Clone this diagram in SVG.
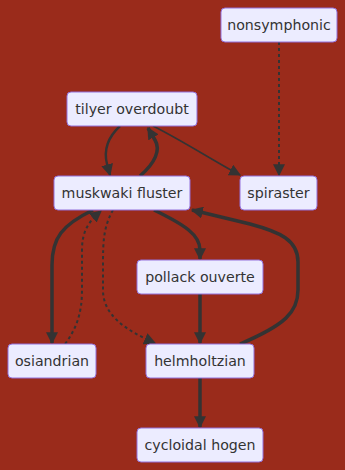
<svg xmlns="http://www.w3.org/2000/svg" width="345" height="470" viewBox="0 0 345 470">
  <style>
    .node rect { fill: #ECECFF; stroke: #9370DB; stroke-width: 1; }
    .node text { font-family: "DejaVu Sans", Verdana, sans-serif; font-size: 14.2px; fill: #333333; text-anchor: middle; dominant-baseline: central; }
    .edge { fill: none; stroke: #333333; stroke-linecap: butt; }
    .thick { stroke-width: 3.5; }
    .normal { stroke-width: 2.4; }
    .thin { stroke-width: 1.6; }
    .dotted { stroke-width: 2; stroke-dasharray: 3 3; }
  </style>
  <defs>
    <marker id="arrow" viewBox="0 0 10 10" refX="9" refY="5" markerUnits="userSpaceOnUse" markerWidth="12" markerHeight="12" orient="auto">
      <path d="M0,0 L10,5 L0,10 z" fill="#333333"/>
    </marker>
  </defs>
  <rect width="345" height="470" fill="#9A2B1B"/>

  <g id="connectors">
    <!-- nonsymphonic to spiraster -->
    <path class="edge dotted" d="M279,42 L279,175" marker-end="url(#arrow)"/>
    <!-- tilyer overdoubt to muskwaki fluster -->
    <path class="edge normal" d="M120,126 C107,138 104,152 107,164 L110,175" marker-end="url(#arrow)"/>
    <!-- muskwaki fluster to tilyer overdoubt -->
    <path class="edge thick" d="M140,176 C155,163 161,150 155,140 L148,128" marker-end="url(#arrow)"/>
    <!-- tilyer overdoubt to spiraster -->
    <path class="edge thin" d="M153,126 C185,142 215,162 240,175" marker-end="url(#arrow)"/>
    <!-- muskwaki fluster to osiandrian -->
    <path class="edge thick" d="M93,210 C62,225 52,238 52,265 L52,343" marker-end="url(#arrow)"/>
    <!-- osiandrian to muskwaki fluster -->
    <path class="edge dotted" d="M65,344 C77,328 82,312 82,290 L82,250 C82,232 88,222 101,211" marker-end="url(#arrow)"/>
    <!-- muskwaki fluster to helmholtzian -->
    <path class="edge dotted" d="M113,210 C104,226 103,240 103,262 L103,290 C103,315 125,330 155,343" marker-end="url(#arrow)"/>
    <!-- muskwaki fluster to pollack ouverte -->
    <path class="edge thick" d="M154,210 C185,225 200,235 200,250 L200,259" marker-end="url(#arrow)"/>
    <!-- pollack ouverte to helmholtzian -->
    <path class="edge thick" d="M200,294 L200,343" marker-end="url(#arrow)"/>
    <!-- helmholtzian to muskwaki fluster -->
    <path class="edge thick" d="M240,344 C285,325 298,312 298,290 L298,262 C298,240 280,232 250,224 L192,210" marker-end="url(#arrow)"/>
    <!-- helmholtzian to cycloidal hogen -->
    <path class="edge thick" d="M200,378 L200,427" marker-end="url(#arrow)"/>
  </g>

  <g id="nonsymphonic" class="node">
    <rect x="221" y="8" width="116" height="34" rx="4"/>
    <text x="279" y="25">nonsymphonic</text>
  </g>
  <g id="tilyer-overdoubt" class="node">
    <rect x="67" y="92" width="130" height="34" rx="4"/>
    <text x="132" y="109">tilyer overdoubt</text>
  </g>
  <g id="muskwaki-fluster" class="node">
    <rect x="54" y="176" width="136" height="34" rx="4"/>
    <text x="122" y="193">muskwaki fluster</text>
  </g>
  <g id="spiraster" class="node">
    <rect x="240" y="176" width="77" height="34" rx="4"/>
    <text x="278.5" y="193">spiraster</text>
  </g>
  <g id="pollack-ouverte" class="node">
    <rect x="137" y="260" width="126" height="34" rx="4"/>
    <text x="200" y="277">pollack ouverte</text>
  </g>
  <g id="osiandrian" class="node">
    <rect x="8" y="344" width="88" height="34" rx="4"/>
    <text x="52" y="361">osiandrian</text>
  </g>
  <g id="helmholtzian" class="node">
    <rect x="146" y="344" width="108" height="34" rx="4"/>
    <text x="200" y="361">helmholtzian</text>
  </g>
  <g id="cycloidal-hogen" class="node">
    <rect x="137" y="428" width="126" height="34" rx="4"/>
    <text x="200" y="445">cycloidal hogen</text>
  </g>
</svg>
